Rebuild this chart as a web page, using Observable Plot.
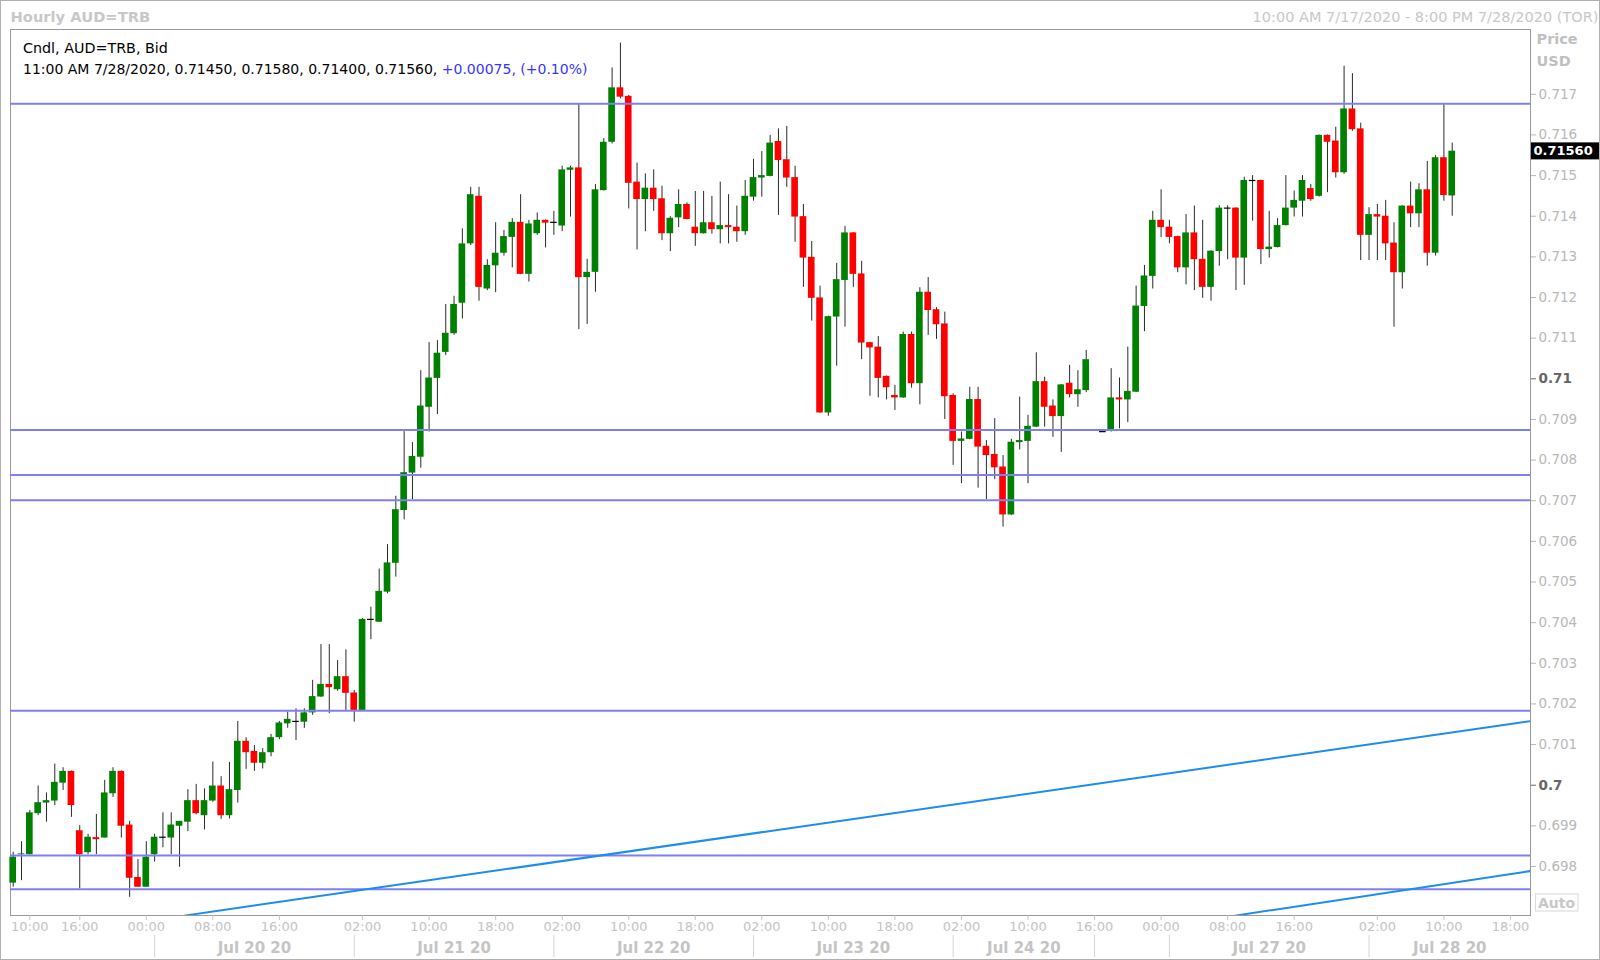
<!DOCTYPE html>
<html><head><meta charset="utf-8">
<script src="https://cdn.jsdelivr.net/npm/d3@7"></script>
<script src="https://cdn.jsdelivr.net/npm/@observablehq/plot@0.6"></script>
<style>
html,body{margin:0;padding:0;background:#fff;}
#chart{position:relative;width:1600px;height:960px;overflow:hidden;}
</style></head><body><div id="chart"></div>
<script>
// ---- Data (hourly candles, index 0 = first visible candle; null = no candle) ----
const opens = [0.69759,0.69829,0.69829,0.69930,0.69956,0.69961,0.70005,0.70034,0.69888,0.69834,
0.69871,0.69870,0.69979,0.70034,0.69902,0.69773,0.69749,0.69829,0.69872,0.69870,
0.69899,0.69909,0.69962,0.69925,0.69961,0.69998,0.69925,0.69987,0.70108,0.70083,
0.70054,0.70080,0.70117,0.70151,0.70157,0.70155,0.70178,0.70217,0.70248,0.70235,
0.70267,0.70227,0.70184,0.70408,0.70401,0.70475,0.70546,0.70676,0.70768,0.70807,
0.70930,0.71001,0.71065,0.71111,0.71186,0.71332,0.71449,0.71221,0.71278,0.71309,
0.71348,0.71385,0.71257,0.71357,0.71390,0.71385,0.71376,0.71513,0.71519,0.71249,
0.71262,0.71463,0.71582,0.71716,0.71695,0.71484,0.71441,0.71469,0.71443,0.71357,
0.71396,0.71429,0.71373,0.71357,0.71384,0.71367,0.71377,0.71373,0.71362,0.71447,
0.71494,0.71498,0.71584,0.71539,0.71495,0.71399,0.71299,0.71199,0.70916,0.71152,
0.71242,0.71359,0.71258,0.71089,0.71078,0.71006,0.70959,0.70953,0.71109,0.70988,
0.71213,0.71170,0.71135,0.70959,0.70846,0.70851,0.70949,0.70834,0.70814,0.70783,
0.70665,0.70843,0.70846,0.70881,0.70993,0.70933,0.70907,0.70989,0.70961,0.70971,
null,0.70870,0.70875,0.70953,0.70948,0.70967,0.71178,0.71252,0.71390,0.71373,
0.71350,0.71273,0.71359,0.71294,0.71225,0.71313,0.71420,0.71420,0.71297,0.71488,
0.71488,0.71318,0.71323,0.71377,0.71420,0.71437,0.71468,0.71449,0.71599,0.71585,
0.71507,0.71664,0.71615,0.71353,0.71404,0.71400,0.71334,0.71261,0.71425,0.71406,
0.71465,0.71309,0.71544,0.71450];
const highs = [0.69835,0.69861,0.69938,0.69998,0.69981,0.70052,0.70043,0.70035,0.69901,0.69879,
0.69928,0.70012,0.70043,0.70035,0.69911,0.69817,0.69861,0.69879,0.69932,0.69932,
0.69911,0.69989,0.70002,0.69991,0.70057,0.70021,0.70056,0.70157,0.70117,0.70098,
0.70090,0.70125,0.70157,0.70180,0.70188,0.70188,0.70258,0.70346,0.70346,0.70307,
0.70333,0.70233,0.70410,0.70438,0.70532,0.70592,0.70711,0.70870,0.70843,0.71020,
0.71089,0.71094,0.71183,0.71203,0.71369,0.71471,0.71471,0.71293,0.71384,0.71365,
0.71394,0.71453,0.71390,0.71408,0.71391,0.71412,0.71523,0.71523,0.71675,0.71294,
0.71478,0.71591,0.71765,0.71826,0.71697,0.71531,0.71504,0.71514,0.71474,0.71399,
0.71465,0.71433,0.71461,0.71461,0.71449,0.71484,0.71453,0.71425,0.71488,0.71540,
0.71559,0.71599,0.71615,0.71621,0.71523,0.71429,0.71338,0.71228,0.71154,0.71284,
0.71375,0.71360,0.71289,0.71090,0.71104,0.71007,0.70984,0.71115,0.71115,0.71224,
0.71249,0.71175,0.71164,0.70963,0.70869,0.70979,0.70979,0.70848,0.70902,0.70811,
0.70851,0.70955,0.70910,0.71064,0.71004,0.70948,0.70986,0.71033,0.71020,0.71070,
null,0.70872,0.71025,0.71002,0.71078,0.71228,0.71279,0.71412,0.71465,0.71390,
0.71351,0.71404,0.71425,0.71390,0.71315,0.71426,0.71426,0.71421,0.71496,0.71500,
0.71489,0.71412,0.71394,0.71500,0.71462,0.71500,0.71478,0.71600,0.71600,0.71619,
0.71769,0.71751,0.71629,0.71421,0.71429,0.71439,0.71384,0.71426,0.71484,0.71480,
0.71535,0.71549,0.71675,0.71580];
const lows = [0.69749,0.69765,0.69828,0.69925,0.69909,0.69950,0.69987,0.69921,0.69745,0.69829,
0.69829,0.69870,0.69970,0.69870,0.69724,0.69748,0.69749,0.69811,0.69846,0.69829,
0.69798,0.69886,0.69927,0.69890,0.69958,0.69916,0.69917,0.69956,0.70039,0.70034,
0.70040,0.70070,0.70112,0.70140,0.70110,0.70140,0.70172,0.70216,0.70176,0.70231,
0.70184,0.70155,0.70183,0.70358,0.70400,0.70471,0.70512,0.70653,0.70703,0.70780,
0.70869,0.70912,0.71057,0.71107,0.71147,0.71328,0.71191,0.71217,0.71212,0.71302,
0.71273,0.71256,0.71238,0.71353,0.71322,0.71353,0.71362,0.71398,0.71121,0.71134,
0.71213,0.71462,0.71578,0.71689,0.71418,0.71317,0.71362,0.71412,0.71340,0.71313,
0.71372,0.71391,0.71326,0.71356,0.71356,0.71332,0.71332,0.71336,0.71353,0.71437,
0.71447,0.71497,0.71402,0.71471,0.71336,0.71225,0.71142,0.70915,0.70908,0.71031,
0.71127,0.71225,0.71047,0.70957,0.70953,0.70948,0.70922,0.70952,0.70977,0.70936,
0.71107,0.71097,0.70900,0.70787,0.70742,0.70850,0.70731,0.70703,0.70752,0.70635,
0.70664,0.70825,0.70742,0.70880,0.70881,0.70856,0.70819,0.70953,0.70930,0.70966,
null,0.70868,0.70869,0.70877,0.70892,0.70966,0.71116,0.71221,0.71348,0.71332,
0.71261,0.71231,0.71217,0.71198,0.71191,0.71277,0.71293,0.71217,0.71230,0.71388,
0.71281,0.71297,0.71322,0.71376,0.71398,0.71398,0.71437,0.71447,0.71458,0.71494,
0.71503,0.71609,0.71291,0.71291,0.71291,0.71291,0.71127,0.71221,0.71372,0.71372,
0.71277,0.71302,0.71437,0.71400];
const closes = [0.69823,0.69831,0.69932,0.69957,0.69962,0.70007,0.70034,0.69950,0.69829,0.69872,
0.69866,0.69981,0.70034,0.69899,0.69771,0.69749,0.69823,0.69872,0.69872,0.69902,
0.69911,0.69962,0.69930,0.69962,0.69998,0.69925,0.69989,0.70108,0.70080,0.70054,
0.70080,0.70117,0.70153,0.70162,0.70157,0.70178,0.70218,0.70248,0.70240,0.70267,
0.70226,0.70184,0.70408,0.70408,0.70477,0.70547,0.70678,0.70769,0.70809,0.70933,
0.71002,0.71063,0.71112,0.71183,0.71332,0.71453,0.71225,0.71279,0.71309,0.71350,
0.71385,0.71257,0.71381,0.71390,0.71383,0.71385,0.71514,0.71519,0.71249,0.71262,
0.71465,0.71582,0.71716,0.71693,0.71481,0.71441,0.71469,0.71441,0.71357,0.71395,
0.71429,0.71392,0.71357,0.71384,0.71367,0.71377,0.71372,0.71362,0.71449,0.71495,
0.71500,0.71580,0.71537,0.71494,0.71398,0.71297,0.71198,0.70916,0.71153,0.71244,
0.71359,0.71257,0.71088,0.71076,0.71001,0.70978,0.70953,0.71109,0.70988,0.71213,
0.71168,0.71133,0.70956,0.70846,0.70852,0.70949,0.70832,0.70811,0.70781,0.70665,
0.70844,0.70848,0.70883,0.70993,0.70930,0.70907,0.70985,0.70961,0.70973,0.71047,
null,0.70870,0.70953,0.70948,0.70969,0.71179,0.71253,0.71390,0.71372,0.71348,
0.71273,0.71359,0.71293,0.71225,0.71314,0.71420,0.71420,0.71297,0.71488,0.71488,
0.71318,0.71324,0.71377,0.71420,0.71439,0.71488,0.71441,0.71599,0.71582,0.71507,
0.71664,0.71613,0.71353,0.71404,0.71398,0.71332,0.71261,0.71425,0.71406,0.71465,
0.71309,0.71544,0.71451,0.71560];

// horizontal support / resistance levels
const levels = [0.71677, 0.70874, 0.70763, 0.70701, 0.70183, 0.69827, 0.69744];
// trend channel lines: [candle index, price] anchor pairs
const trendLower = [[20.56, 0.69679], [182.48, 0.70158]];
const trendUpper = [[146.9, 0.69679], [182.48, 0.69789]];

// axis ticks
const priceTicks = [0.698,0.699,0.701,0.702,0.703,0.704,0.705,0.706,0.707,0.708,0.709,0.711,0.712,0.713,0.714,0.715,0.716,0.717];
const priceTicksBold = [0.70, 0.71];
const timeTickIdx = [2,8,16,24,32,42,50,58,66,74,82,90,98,106,114,122,130,138,146,154,164,172,180];
const timeTickLabels = ["10:00","16:00","00:00","08:00","16:00","02:00","10:00","18:00","02:00","10:00","18:00","02:00","10:00","18:00","02:00","10:00","16:00","00:00","08:00","16:00","02:00","10:00","18:00"];
const daySepIdx = [17, 41, 65, 89, 113, 130, 139, 163];
const dayLabelIdx = [29, 53, 77, 101, 121.5, 151, 172.7];
const dayLabels = ["Jul 20 20","Jul 21 20","Jul 22 20","Jul 23 20","Jul 24 20","Jul 27 20","Jul 28 20"];

const title = "Hourly AUD=TRB";
const rangeText = "10:00 AM 7/17/2020 - 8:00 PM 7/28/2020 (TOR)";
const legend1 = "Cndl, AUD=TRB, Bid";
const legend2 = "11:00 AM 7/28/2020, 0.71450, 0.71580, 0.71400, 0.71560, ";
const legend2Change = "+0.00075, (+0.10%)";

// ---- build ----
const candles = opens.map((o, i) => o == null ? null : {i, open: o, high: highs[i], low: lows[i], close: closes[i]}).filter(d => d);
const bodies = candles.filter(d => d.open !== d.close);
const dojis = candles.filter(d => d.open === d.close);
const last = candles[candles.length - 1];
const toPts = a => a.map(([i, p]) => ({i, p}));

const GRAY = "#c4c4c4";
const chart = Plot.plot({
  width: 1600, height: 960,
  marginLeft: 10, marginRight: 70, marginTop: 29, marginBottom: 45,
  style: {fontFamily: "DejaVu Sans, Verdana, sans-serif", fontSize: "13px", background: "#fff", overflow: "visible"},
  x: {domain: [-0.3246, 182.41]},
  y: {domain: [0.696794, 0.718595]},
  marks: [
    Plot.frame({stroke: "#9a9a9a"}),
    Plot.ruleX(candles, {x: "i", y1: "low", y2: "high", stroke: "#2a2a2a", strokeWidth: 1}),
    Plot.rect(bodies, {x1: d => d.i - 0.4, x2: d => d.i + 0.4, y1: "open", y2: "close",
      fill: d => d.close > d.open ? "#008000" : "#ff0000"}),
    Plot.ruleY(dojis, {y: "close", x1: d => d.i - 0.4, x2: d => d.i + 0.4, stroke: "#000", strokeWidth: 1.2}),
    Plot.ruleY(levels, {stroke: "#7f7ff5", strokeWidth: 2}),
    Plot.line(toPts(trendLower), {x: "i", y: "p", stroke: "#1d8cf0", strokeWidth: 2, clip: true}),
    Plot.line(toPts(trendUpper), {x: "i", y: "p", stroke: "#1d8cf0", strokeWidth: 2, clip: true}),
    // right price axis
    Plot.axisY(priceTicks, {anchor: "right", tickSize: 5, tickPadding: 3, tickFormat: d3.format(".3f"), color: "#b8b8b8", fontSize: 13.5, label: null}),
    Plot.axisY(priceTicksBold, {anchor: "right", tickSize: 5, tickPadding: 3, tickFormat: d => String(+d.toFixed(3)), color: "#666", fontWeight: "bold", fontSize: 13.5, label: null}),
    // bottom time axis
    Plot.axisX(timeTickIdx, {anchor: "bottom", tickSize: 5, tickPadding: 1, tickFormat: d => timeTickLabels[timeTickIdx.indexOf(d)], color: GRAY, fontSize: 13, label: null}),
    Plot.axisX(daySepIdx, {anchor: "bottom", tickSize: 22, dy: 20, tickFormat: () => "", color: "#d4d4d4", label: null}),
    Plot.axisX(dayLabelIdx, {anchor: "bottom", tickSize: 0, tickPadding: 27, tickFormat: d => dayLabels[dayLabelIdx.indexOf(d)], color: GRAY, fontWeight: "bold", fontSize: 15, label: null}),
    // texts
    Plot.text([title], {frameAnchor: "top-left", dx: 0, dy: -18, textAnchor: "start", fill: "#c8c8c8", fontWeight: "bold", fontSize: 14.7}),
    Plot.text([rangeText], {frameAnchor: "top-right", dx: 68, dy: -18, textAnchor: "end", fill: "#c8c8c8", fontSize: 14.5}),
    Plot.text([legend1], {frameAnchor: "top-left", dx: 12.5, dy: 13, textAnchor: "start", fill: "#000", fontSize: 14.3}),
    Plot.text([legend2], {frameAnchor: "top-left", dx: 12.5, dy: 34.5, textAnchor: "start", fill: "#000", fontSize: 14}),
    Plot.text(["Price"], {frameAnchor: "top-right", dx: 6, dy: 4, textAnchor: "start", fill: "#c0c0c0", fontWeight: "bold", fontSize: 14.5}),
    Plot.text(["USD"], {frameAnchor: "top-right", dx: 6, dy: 26, textAnchor: "start", fill: "#c0c0c0", fontWeight: "bold", fontSize: 14.5}),
    Plot.text(["Auto"], {frameAnchor: "bottom-right", dx: 26, dy: -8, textAnchor: "middle", fill: "#c8c8c8", fontWeight: "bold", fontSize: 14}),
    Plot.text([last], {y: "close", text: d => d.close.toFixed(5), frameAnchor: "right", dx: 3, textAnchor: "start", fill: "#fff", fontWeight: "bold", fontSize: 13})
  ]
});
document.getElementById("chart").appendChild(chart);

// ---- post-processing: coloured change text, price tag box, outer border ----
const svgNode = chart.tagName.toLowerCase() === "svg" ? chart : chart.querySelector("svg");
const svg = d3.select(svgNode);
const svgBox = svgNode.getBoundingClientRect();
const findText = s => svg.selectAll("text").filter(function () { return this.textContent === s; }).node();

const l2 = findText(legend2) || svg.selectAll("text").filter(function () { return this.textContent.startsWith("11:00 AM"); }).node();
if (l2) d3.select(l2).append("tspan").attr("fill", "#3535ff").text(legend2Change);

const tag = findText(last.close.toFixed(5));
if (tag) {
  const r = tag.getBoundingClientRect();
  const g = tag.closest("g");
  svg.append("rect").attr("x", 1531).attr("y", r.top - svgBox.top - 1)
    .attr("width", 68).attr("height", r.height + 2).attr("fill", "#000");
  svgNode.appendChild(g);
}
const auto = findText("Auto");
if (auto) {
  const r = auto.getBoundingClientRect();
  const g = auto.closest("g");
  svg.append("rect").attr("x", r.left - svgBox.left - 2.5).attr("y", r.top - svgBox.top - 0.5)
    .attr("width", r.width + 5).attr("height", r.height + 1).attr("fill", "#fff").attr("stroke", "#d8d8d8");
  svgNode.appendChild(g);
}
svg.append("rect").attr("x", 0.5).attr("y", 0.5).attr("width", 1599).attr("height", 959)
  .attr("fill", "none").attr("stroke", "#b0b0b0");
</script></body></html>
